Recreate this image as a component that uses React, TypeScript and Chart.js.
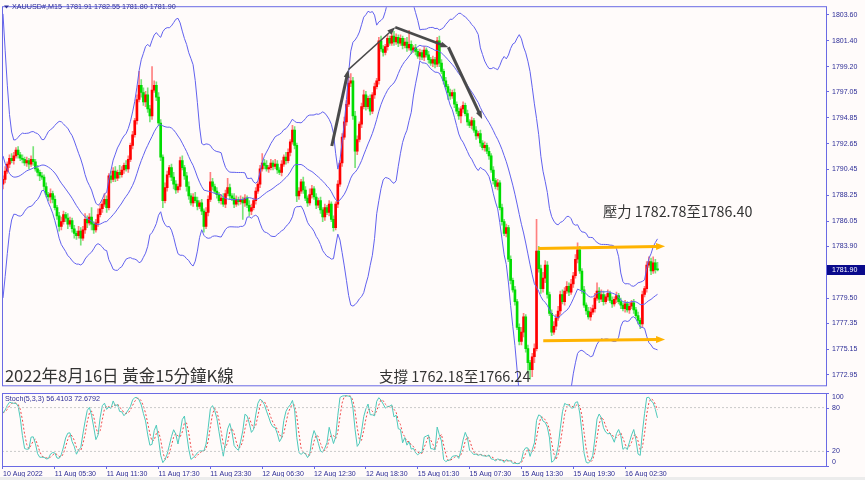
import React, { useEffect, useRef } from "react";
import { Chart, registerables } from "chart.js";

Chart.register(...registerables);

// ---------------- DATA ----------------
// XAUUSD M15 closes, one per bar (bar 0 = 10 Aug 23:30 broker time)
const closes = [
  1789.6, 1790.3, 1790.9, 1791.4, 1791.2, 1791.6, 1792.1, 1791.7, 1791.4, 1791.3,
  1791.0, 1791.2, 1790.9, 1791.3, 1791.1, 1790.5, 1790.2, 1789.9, 1789.8, 1789.0,
  1788.3, 1788.1, 1788.4, 1787.9, 1787.2, 1786.5, 1785.6, 1786.0, 1786.6, 1786.3,
  1785.8, 1786.1, 1785.4, 1785.0, 1784.8, 1785.2, 1784.6, 1785.3, 1786.2, 1785.9,
  1786.4, 1785.8, 1785.3, 1785.9, 1786.6, 1787.1, 1787.5, 1787.9, 1787.2, 1789.9,
  1789.6, 1790.3, 1789.7, 1790.2, 1790.0, 1790.4, 1790.8, 1790.5, 1791.3, 1792.5,
  1793.4, 1794.6, 1796.4, 1797.6, 1797.0, 1796.2, 1796.8, 1795.6, 1795.0, 1797.2,
  1797.6, 1796.6, 1794.4, 1791.5, 1787.8, 1788.9, 1790.0, 1790.6, 1789.8, 1789.2,
  1788.7, 1789.0, 1791.2, 1790.6, 1789.9, 1789.0, 1788.2, 1787.6, 1788.1, 1787.8,
  1787.3, 1787.6, 1786.9, 1785.6, 1786.8, 1787.9, 1789.4, 1789.0, 1788.6, 1788.3,
  1787.8, 1788.0, 1787.5, 1788.4, 1788.9, 1788.2, 1788.0, 1787.5, 1787.9, 1787.7,
  1787.9, 1787.6, 1788.0, 1787.4, 1786.9, 1787.2, 1787.8, 1788.6, 1789.2, 1790.5,
  1791.0, 1790.8, 1790.5, 1790.6, 1791.0, 1790.7, 1790.9, 1790.4, 1790.2, 1790.9,
  1791.5, 1791.2, 1791.9, 1792.8, 1793.8, 1792.5, 1788.2, 1788.6, 1789.4, 1788.7,
  1788.0, 1787.6, 1788.3, 1788.8, 1788.1, 1787.4, 1787.8, 1787.0, 1786.4, 1787.2,
  1786.8, 1787.5, 1786.2, 1785.5, 1787.5, 1789.2, 1791.0, 1793.2, 1794.5, 1796.0,
  1797.8, 1798.0, 1795.0, 1792.0, 1793.0, 1794.3, 1795.8, 1796.8, 1795.8, 1796.5,
  1795.4, 1796.8, 1797.5, 1798.0, 1801.4, 1800.7, 1800.4, 1800.9, 1801.6, 1801.2,
  1801.8, 1801.3, 1801.7, 1801.2, 1801.6, 1801.0, 1801.3, 1800.8, 1801.1, 1800.6,
  1800.8, 1800.5, 1800.1, 1800.4, 1800.0, 1800.6, 1800.2, 1799.8, 1799.5, 1799.8,
  1799.4, 1801.4, 1799.5, 1798.8, 1798.0, 1797.5, 1797.0, 1796.7, 1797.0, 1796.0,
  1795.4, 1795.0, 1795.6, 1795.9, 1795.2, 1794.5, 1794.2, 1794.6, 1793.8, 1793.3,
  1793.5, 1792.7, 1792.3, 1792.5, 1792.0, 1791.6, 1790.4, 1789.5, 1789.0, 1789.3,
  1787.2, 1786.0, 1785.0, 1785.5, 1782.8, 1781.0, 1780.2, 1779.2, 1777.0, 1775.8,
  1776.6, 1777.9, 1775.2, 1774.0, 1773.4, 1774.5, 1775.2, 1783.5, 1782.0, 1780.3,
  1781.2, 1782.3, 1779.8, 1778.2, 1776.6, 1777.1, 1777.8, 1778.4, 1779.8, 1779.2,
  1780.1, 1780.5, 1780.0, 1780.7, 1781.4, 1782.8, 1783.6, 1781.8, 1780.2, 1778.9,
  1778.4, 1777.9, 1778.3, 1778.6, 1779.5, 1780.1, 1779.4, 1779.8, 1779.2, 1779.6,
  1779.9, 1779.3, 1779.0, 1779.4, 1779.7, 1779.2, 1778.9, 1778.6, 1779.0, 1778.5,
  1778.8, 1779.1, 1778.5, 1778.0, 1777.6, 1777.3, 1779.8, 1780.3, 1782.3, 1782.6,
  1781.8, 1782.5, 1781.91, 1781.9,
];
const firstOpen = 1789.2;

// upper / lower shadow length of each bar
const upWick = [
  0.3,0.4,0.2,0.3,0.4,0.3,0.2,0.3,0.2,0.3,0.2,0.3,0.2,0.3,1.1,0.2,0.3,0.2,0.3,0.2,
  0.3,0.2,0.4,0.2,0.3,0.2,0.3,0.4,0.3,0.2,0.4,0.3,0.2,0.3,0.2,0.4,0.3,0.3,0.5,0.3,
  0.3,0.8,0.2,0.3,0.5,0.4,0.3,0.5,0.3,0.2,0.4,0.3,0.4,0.2,0.6,0.3,0.2,0.4,0.3,0.2,
  0.3,0.2,0.4,1.2,0.5,0.4,0.3,0.6,0.3,2.0,0.4,0.3,0.4,0.3,0.2,0.4,0.3,0.2,0.3,0.4,
  0.3,0.2,0.3,0.4,0.2,0.3,0.4,0.2,0.3,0.4,0.3,0.2,0.3,0.2,0.4,0.3,0.8,0.3,0.2,0.3,
  0.2,0.3,0.4,0.3,0.8,0.3,0.2,0.4,0.3,0.2,0.3,0.2,0.3,0.2,0.4,0.3,0.2,0.3,0.2,0.3,
  0.8,0.3,0.4,0.2,0.3,0.2,0.4,0.3,0.2,0.3,0.2,0.4,0.3,0.2,0.4,0.3,0.2,0.3,0.2,0.4,
  0.3,0.2,0.5,0.3,0.2,0.3,0.2,0.3,0.2,0.3,0.2,0.3,0.2,0.3,0.2,0.3,0.2,0.3,0.4,0.3,
  0.5,0.6,0.3,0.4,0.3,0.2,0.3,0.4,0.3,0.2,0.3,0.2,0.3,0.2,0.3,0.4,0.3,0.2,0.3,0.2,
  0.3,0.4,0.3,0.2,0.3,0.2,0.3,0.4,1.2,0.3,0.2,0.3,0.2,0.3,0.2,0.3,0.2,0.3,0.2,0.3,
  0.2,0.3,0.4,0.3,0.2,0.3,0.2,0.3,0.2,0.3,0.2,0.3,0.2,0.3,0.2,0.3,0.2,0.3,0.2,0.3,
  0.2,0.3,0.2,0.3,0.2,0.3,0.2,0.3,0.2,0.3,0.2,0.3,0.2,0.3,0.2,0.3,0.2,0.3,0.2,0.3,
  0.4,0.3,0.2,0.3,0.2,0.3,0.4,2.7,0.4,0.3,0.5,0.4,0.3,0.2,0.3,0.4,0.3,0.4,0.3,0.4,
  0.3,0.4,0.3,0.4,0.3,0.4,0.6,0.3,0.2,0.3,0.2,0.3,0.4,0.3,0.4,0.7,0.3,0.4,0.3,0.2,
  0.3,0.2,0.3,0.2,0.3,0.2,0.3,0.2,0.3,0.2,0.3,0.2,0.3,0.2,0.3,0.2,0.3,0.2,0.3,0.4,
  0.3,0.5,0.3,0.64,
];
const dnWick = [
  0.4,0.3,0.2,0.3,0.2,0.3,0.2,0.3,0.2,0.3,0.2,0.3,0.4,0.2,0.3,0.2,0.3,0.4,0.2,0.3,
  0.2,0.3,0.5,0.3,0.2,0.3,0.4,0.3,0.2,0.3,0.4,0.2,0.3,0.4,0.3,0.2,0.6,0.2,0.3,0.4,
  0.2,0.5,0.3,0.2,0.3,0.2,0.3,0.2,0.4,0.2,0.3,0.2,0.3,0.2,0.3,0.2,0.3,0.2,0.3,0.2,
  0.3,0.2,0.3,0.2,0.4,0.3,0.4,0.3,0.5,0.3,0.2,0.3,0.2,0.3,0.6,0.2,0.3,0.2,0.3,0.4,
  0.3,0.2,0.3,0.2,0.3,0.4,0.3,0.2,0.3,0.2,0.3,0.2,0.3,0.5,0.2,0.3,0.2,0.3,0.2,0.3,
  0.2,0.3,0.2,0.3,0.2,0.3,0.2,0.3,0.2,0.3,0.2,1.4,0.3,0.2,0.4,0.3,0.2,0.3,0.2,0.3,
  0.2,0.3,0.2,0.3,0.2,0.3,0.2,0.3,0.2,0.3,0.2,0.3,0.2,0.3,0.2,0.3,0.5,0.3,0.2,0.3,
  0.2,0.3,0.2,0.3,0.2,0.3,0.2,0.3,0.4,0.3,0.2,0.3,0.2,0.3,0.2,0.3,0.2,0.3,0.2,0.3,
  0.2,0.3,0.3,1.4,0.3,0.2,0.3,0.2,0.3,0.2,0.3,0.2,0.3,0.2,0.3,0.2,0.3,0.2,0.3,0.2,
  0.2,0.3,0.2,0.3,0.2,0.3,0.2,0.3,0.2,0.3,0.2,0.3,0.2,0.3,0.2,0.3,0.2,0.3,0.2,0.3,
  0.3,0.2,0.3,0.2,0.3,0.2,0.6,0.3,0.2,0.3,0.2,0.3,0.6,0.3,0.2,0.3,0.2,0.3,0.2,0.3,
  0.2,0.3,0.2,0.3,0.2,0.3,0.2,0.3,0.2,0.3,0.2,0.3,0.2,0.3,0.2,0.3,0.2,0.3,0.2,0.3,
  0.3,0.4,0.3,0.9,0.8,0.6,0.5,0.2,0.3,0.4,0.3,0.4,0.3,0.2,0.3,0.2,0.3,0.2,0.3,0.2,
  0.3,0.2,0.3,0.2,0.3,0.2,0.3,0.2,0.3,0.2,0.3,0.2,0.3,0.2,0.3,0.2,0.3,0.2,0.3,0.2,
  0.3,0.2,0.3,0.2,0.3,0.2,0.3,0.2,0.3,0.2,0.3,0.2,0.3,0.2,0.3,0.4,0.3,0.2,0.3,0.2,
  0.3,0.2,0.3,0.10,
];

// closes of the 19 bars before the first visible bar (feed the Bollinger window)
const earlierCloses = [
  1803.0, 1801.0, 1798.5, 1795.5, 1793.5, 1792.0, 1790.8, 1789.6, 1788.8, 1788.2,
  1788.6, 1789.3, 1789.9, 1789.4, 1788.9, 1789.3, 1788.7, 1788.4, 1789.0,
];
const bandPeriod = 20;
const bandDeviation = 2.8;

const priceTicks = [
  1803.6, 1801.4, 1799.2, 1797.05, 1794.85, 1792.65, 1790.45, 1788.25, 1786.05,
  1783.9, 1781.7, 1779.5, 1777.35, 1775.15, 1772.95,
];
const timeLabels = [
  "10 Aug 2022", "11 Aug 05:30", "11 Aug 11:30", "11 Aug 17:30", "11 Aug 23:30",
  "12 Aug 06:30", "12 Aug 12:30", "12 Aug 18:30", "15 Aug 01:30", "15 Aug 07:30",
  "15 Aug 13:30", "15 Aug 19:30", "16 Aug 02:30",
];
const timeLabelBars = [0, 24, 48, 72, 96, 120, 144, 168, 192, 216, 240, 264, 288];
const stochLevels = [100, 80, 20, 0];
const lastPrice = 1781.9;

const headerText = "XAUUSD#,M15  1781.91 1782.55 1781.80 1781.90";
const stochText = "Stoch(5,3,3) 56.4103 72.6792";
const titleText = "2022年8月16日 黃金15分鐘K線";
const supportText = "支撐 1762.18至1766.24";
const resistText = "壓力 1782.78至1786.40";

// ---------------- VIEW / STYLE ----------------
const X_MIN = -0.46;
const X_MAX = 381.0;
const P_MIN = 1772.03;
const P_MAX = 1804.26;

const BG = "#fffbfa";
const AXIS = "#6a6ae4";
const TXT = "#2c2c96";
const BAND = "#6161ee";
const BULL = "#ff0000";
const BEAR = "#00dc00";
const BULL_WICK = "#ff8080";
const BEAR_WICK = "#78e278";
const SMALL_FONT = '"Liberation Sans", Arial, sans-serif';
const CJK_FONT = '"Noto Sans CJK TC", "Noto Sans CJK SC", sans-serif';

// annotation anchors in (bar index, price)
const trendArrows = [
  { from: [152.2, 1792.44], to: [159.9, 1798.95], w: 3 },
  { from: [159.9, 1798.95], to: [181.6, 1802.55], w: 1.5 },
  { from: [181.6, 1802.55], to: [206.2, 1800.85], w: 2.5 },
  { from: [206.2, 1800.85], to: [221.8, 1794.75], w: 3 },
];
const levelArrows = [
  { from: [247.8, 1783.71], to: [306.5, 1783.9] },
  { from: [250.1, 1775.86], to: [306.5, 1775.97] },
];
const labels = [
  { text: titleText, at: [0.9, 1772.86], size: 16.5 },
  { text: supportText, at: [174.1, 1772.86], size: 14.5 },
  { text: resistText, at: [277.8, 1786.82], size: 14.3 },
];

// ---------------- HELPERS ----------------
function buildBars() {
  const n = closes.length;
  const bars: any[] = [];
  for (let i = 0; i < n; i++) {
    const o = i === 0 ? firstOpen : closes[i - 1];
    const c = closes[i];
    const h = Math.max(o, c) + (upWick[i] ?? 0.2);
    const l = Math.min(o, c) - (dnWick[i] ?? 0.2);
    bars.push({ i, o, h, l, c });
  }
  return bars;
}

function bollinger(period: number, mult: number) {
  const all = earlierCloses.concat(closes);
  const off = earlierCloses.length;
  const up: any[] = [], mid: any[] = [], lo: any[] = [];
  for (let i = 0; i < closes.length; i++) {
    const end = i + off;
    const start = Math.max(0, end - period + 1);
    const w = all.slice(start, end + 1);
    const m = w.reduce((a, b) => a + b, 0) / w.length;
    const sd = Math.sqrt(w.reduce((a, b) => a + (b - m) * (b - m), 0) / w.length);
    mid.push({ x: i, y: m });
    up.push({ x: i, y: m + mult * sd });
    lo.push({ x: i, y: m - mult * sd });
  }
  return { up, mid, lo };
}

function stochastic(bars: any[], kP: number, slow: number, dP: number) {
  const n = bars.length;
  const ll: number[] = [], hh: number[] = [];
  for (let i = 0; i < n; i++) {
    let lo = Infinity, hi = -Infinity;
    for (let j = Math.max(0, i - kP + 1); j <= i; j++) {
      lo = Math.min(lo, bars[j].l);
      hi = Math.max(hi, bars[j].h);
    }
    ll.push(lo); hh.push(hi);
  }
  const k: number[] = [];
  for (let i = 0; i < n; i++) {
    let num = 0, den = 0;
    for (let j = Math.max(0, i - slow + 1); j <= i; j++) {
      num += bars[j].c - ll[j];
      den += hh[j] - ll[j];
    }
    k.push(den > 0 ? (num / den) * 100 : 50);
  }
  const d: number[] = [];
  for (let i = 0; i < n; i++) {
    let s = 0, c = 0;
    for (let j = Math.max(0, i - dP + 1); j <= i; j++) { s += k[j]; c++; }
    d.push(s / c);
  }
  return {
    k: k.map((v, i) => ({ x: i, y: v })),
    d: d.map((v, i) => ({ x: i, y: v })),
  };
}

function drawArrow(ctx: CanvasRenderingContext2D, x1: number, y1: number, x2: number, y2: number,
  w: number, color: string, headL: number, headW: number) {
  const a = Math.atan2(y2 - y1, x2 - x1);
  const c = Math.cos(a), s = Math.sin(a);
  const bx = x2 - headL * c, by = y2 - headL * s;
  ctx.strokeStyle = color;
  ctx.lineWidth = w;
  ctx.lineCap = "butt";
  ctx.beginPath();
  ctx.moveTo(x1, y1);
  ctx.lineTo(bx + c, by + s);
  ctx.stroke();
  ctx.fillStyle = color;
  ctx.beginPath();
  ctx.moveTo(x2, y2);
  ctx.lineTo(bx - (headW / 2) * s, by + (headW / 2) * c);
  ctx.lineTo(bx + (headW / 2) * s, by - (headW / 2) * c);
  ctx.closePath();
  ctx.fill();
}

// ---------------- PLUGINS ----------------
const mainOverlay = {
  id: "mainOverlay",
  afterDatasetsDraw(chart: any) {
    const { ctx, scales } = chart;
    const px = (v: number) => scales.x.getPixelForValue(v);
    const py = (v: number) => scales.y.getPixelForValue(v);
    ctx.save();
    for (const a of trendArrows) {
      drawArrow(ctx, px(a.from[0]), py(a.from[1]), px(a.to[0]), py(a.to[1]), a.w, "#4a4a4a", 8, 6);
    }
    for (const a of levelArrows) {
      drawArrow(ctx, px(a.from[0]), py(a.from[1]), px(a.to[0]), py(a.to[1]), 3, "#ffb300", 9, 7);
    }
    ctx.fillStyle = "#333333";
    ctx.textBaseline = "middle";
    ctx.textAlign = "left";
    for (const l of labels) {
      ctx.font = `${l.size}px ${CJK_FONT}`;
      ctx.fillText(l.text, px(l.at[0]), py(l.at[1]));
    }
    ctx.restore();
  },
  afterDraw(chart: any) {
    const { ctx, chartArea: a, scales } = chart;
    ctx.save();
    ctx.strokeStyle = AXIS;
    ctx.lineWidth = 1;
    ctx.strokeRect(a.left + 0.5, a.top - 0.5, a.right - a.left, a.bottom - a.top + 0.5);
    // header
    ctx.fillStyle = TXT;
    ctx.beginPath();
    ctx.moveTo(4, 5.5); ctx.lineTo(9, 5.5); ctx.lineTo(6.5, 8.5); ctx.closePath();
    ctx.fill();
    ctx.font = `7.2px ${SMALL_FONT}`;
    ctx.textBaseline = "middle";
    ctx.textAlign = "left";
    ctx.fillText(headerText, 12, 7.5);
    // current price box
    const y = scales.y.getPixelForValue(lastPrice);
    ctx.fillStyle = "#0a0a8c";
    ctx.fillRect(827, Math.round(y) - 5, 38, 10);
    ctx.fillStyle = "#ffffff";
    ctx.font = `7px ${SMALL_FONT}`;
    ctx.fillText(lastPrice.toFixed(2), 832, y + 0.5);
    ctx.restore();
  },
};

const stochOverlay = {
  id: "stochOverlay",
  afterDraw(chart: any) {
    const { ctx, chartArea: a, scales } = chart;
    ctx.save();
    ctx.strokeStyle = AXIS;
    ctx.lineWidth = 1;
    ctx.strokeRect(a.left + 0.5, a.top + 0.5, a.right - a.left, a.bottom - a.top);
    ctx.fillStyle = TXT;
    ctx.font = `7.2px ${SMALL_FONT}`;
    ctx.textBaseline = "middle";
    ctx.textAlign = "left";
    ctx.fillText(stochText, 5, 6);
    ctx.font = `7px ${SMALL_FONT}`;
    for (const v of stochLevels) {
      const y = scales.y.getPixelForValue(v);
      ctx.beginPath();
      ctx.moveTo(a.right, Math.round(y) + 0.5);
      ctx.lineTo(a.right + 3, Math.round(y) + 0.5);
      ctx.stroke();
      const ly = Math.min(Math.max(y, a.top + 4), a.bottom - 4);
      ctx.fillText(String(v), a.right + 6, ly);
    }
    ctx.restore();
  },
};

// ---------------- COMPONENT ----------------
export default function App() {
  const mainRef = useRef<HTMLCanvasElement>(null);
  const stochRef = useRef<HTMLCanvasElement>(null);

  useEffect(() => {
    const bars = buildBars();
    const bb = bollinger(bandPeriod, bandDeviation);
    const st = stochastic(bars, 5, 3, 3);

    const wicks = bars.map((b) => ({ x: b.i, y: [b.l, b.h] }));
    const bodies = bars.map((b) => ({ x: b.i, y: [b.o, b.c] }));
    const bodyColors = bars.map((b) => (b.c > b.o ? BULL : BEAR));
    const wickColors = bars.map((b) => (b.c > b.o ? BULL_WICK : BEAR_WICK));

    const bandDs = (data: any[]) => ({
      type: "line",
      data,
      borderColor: BAND,
      borderWidth: 1,
      pointRadius: 0,
      tension: 0,
      order: 0,
    });

    const c1 = new Chart(mainRef.current as HTMLCanvasElement, {
      type: "bar",
      data: {
        datasets: [
          bandDs(bb.up),
          bandDs(bb.mid),
          bandDs(bb.lo),
          {
            type: "bar",
            data: bodies,
            backgroundColor: bodyColors,
            barThickness: 2,
            grouped: false,
            minBarLength: 1,
            order: 1,
          },
          {
            type: "bar",
            data: wicks,
            backgroundColor: wickColors,
            barThickness: 1,
            grouped: false,
            order: 2,
          },
        ] as any,
      },
      options: {
        responsive: false,
        animation: false,
        devicePixelRatio: 1,
        events: [],
        layout: { padding: { left: 2, top: 2, right: 0, bottom: 1 } },
        plugins: { legend: { display: false }, tooltip: { enabled: false } },
        scales: {
          x: { type: "linear", min: X_MIN, max: X_MAX, display: false, offset: false },
          y: {
            type: "linear",
            position: "right",
            min: P_MIN,
            max: P_MAX,
            afterBuildTicks: (s: any) => {
              s.ticks = priceTicks.map((v) => ({ value: v }));
            },
            afterFit: (s: any) => {
              s.width = 39;
            },
            ticks: {
              callback: (v: any) => Number(v).toFixed(2),
              font: { size: 7, family: SMALL_FONT },
              color: TXT,
              padding: 3,
              autoSkip: false,
            },
            grid: { drawOnChartArea: false, tickLength: 3, color: AXIS },
            border: { color: AXIS },
          },
        },
      } as any,
      plugins: [mainOverlay],
    });

    const levelDs = (v: number) => ({
      data: [{ x: X_MIN, y: v }, { x: X_MAX, y: v }],
      borderColor: "#c9c9c9",
      borderWidth: 1,
      borderDash: [2, 2],
      pointRadius: 0,
    });

    const c2 = new Chart(stochRef.current as HTMLCanvasElement, {
      type: "line",
      data: {
        datasets: [
          levelDs(80),
          levelDs(20),
          {
            data: st.k,
            borderColor: "#4ec9ba",
            borderWidth: 1,
            pointRadius: 0,
            tension: 0,
          },
          {
            data: st.d,
            borderColor: "#f04848",
            borderWidth: 1,
            borderDash: [2, 2],
            pointRadius: 0,
            tension: 0,
          },
        ] as any,
      },
      options: {
        responsive: false,
        animation: false,
        devicePixelRatio: 1,
        events: [],
        layout: { padding: { left: 2, top: 0, right: 0, bottom: 0 } },
        plugins: { legend: { display: false }, tooltip: { enabled: false } },
        scales: {
          x: {
            type: "linear",
            position: "bottom",
            min: X_MIN,
            max: X_MAX,
            offset: false,
            afterBuildTicks: (s: any) => {
              s.ticks = timeLabelBars.map((v) => ({ value: v }));
            },
            afterFit: (s: any) => {
              s.height = 14;
            },
            ticks: {
              autoSkip: false,
              maxRotation: 0,
              minRotation: 0,
              align: "start",
              padding: 1,
              font: { size: 7, family: SMALL_FONT },
              color: TXT,
              callback: (_v: any, idx: number) => timeLabels[idx],
            },
            grid: { drawOnChartArea: false, tickLength: 3, color: AXIS },
            border: { color: AXIS },
          },
          y: {
            type: "linear",
            position: "right",
            min: 0,
            max: 100,
            afterFit: (s: any) => {
              s.width = 39;
            },
            ticks: { display: false },
            grid: { display: false },
            border: { color: AXIS },
          },
        },
      } as any,
      plugins: [stochOverlay],
    });

    return () => {
      c1.destroy();
      c2.destroy();
    };
  }, []);

  return (
    <div
      style={{
        position: "fixed",
        left: 0,
        top: 0,
        width: 865,
        height: 480,
        background: BG,
        overflow: "hidden",
      }}
    >
      <canvas
        ref={mainRef}
        width={865}
        height={393}
        style={{ position: "absolute", left: 0, top: 0 }}
      />
      <canvas
        ref={stochRef}
        width={865}
        height={87}
        style={{ position: "absolute", left: 0, top: 393 }}
      />
      <div
        style={{
          position: "absolute",
          left: 0,
          top: 477,
          width: 865,
          height: 3,
          background: "#ececec",
        }}
      />
    </div>
  );
}
